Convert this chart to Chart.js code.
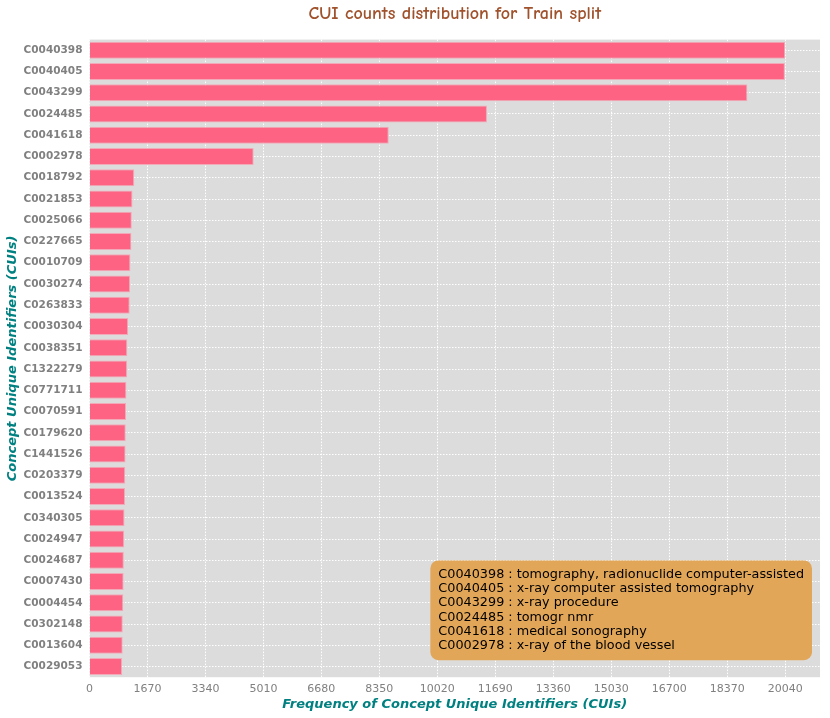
<!DOCTYPE html>
<html>
<head>
<meta charset="utf-8">
<script src="https://cdn.jsdelivr.net/npm/chart.js@4.4.0/dist/chart.umd.min.js"></script>
<style>
  html, body { margin: 0; padding: 0; background: #ffffff; }
  #wrap { width: 830px; height: 718px; }
</style>
</head>
<body>
<div id="wrap"><canvas id="chartCui"></canvas></div>
<script>
var cuiLabels = ['C0040398', 'C0040405', 'C0043299', 'C0024485', 'C0041618', 'C0002978',
    'C0018792', 'C0021853', 'C0025066', 'C0227665', 'C0010709', 'C0030274', 'C0263833',
    'C0030304', 'C0038351', 'C1322279', 'C0771711', 'C0070591', 'C0179620', 'C1441526',
    'C0203379', 'C0013524', 'C0340305', 'C0024947', 'C0024687', 'C0007430', 'C0004454',
    'C0302148', 'C0013604', 'C0029053'];
var cuiCounts = [20040, 20030, 18950, 11450, 8620, 4730,
    1290, 1240, 1220, 1210, 1180, 1170, 1160,
    1115, 1090, 1085, 1065, 1055, 1045, 1040,
    1030, 1025, 1010, 1000, 990, 985, 975,
    960, 958, 940];
var xTickValues = [0, 1670, 3340, 5010, 6680, 8350, 10020, 11690, 13360, 15030, 16700, 18370, 20040];
var xMax = 21042;
var legendLines = [
    'C0040398 : tomography, radionuclide computer-assisted',
    'C0040405 : x-ray computer assisted tomography',
    'C0043299 : x-ray procedure',
    'C0024485 : tomogr nmr',
    'C0041618 : medical sonography',
    'C0002978 : x-ray of the blood vessel'
];

// grey panel behind the bars
var plotBackground = {
    id: 'plotBackground',
    beforeDraw: function (chart) {
        var ctx = chart.ctx, a = chart.chartArea;
        ctx.save();
        ctx.fillStyle = '#dcdcdc';
        ctx.fillRect(a.left, a.top, a.right - a.left, a.bottom - a.top);
        ctx.restore();
    }
};

// orange text box with the CUI descriptions
var cuiTextBox = {
    id: 'cuiTextBox',
    afterDraw: function (chart) {
        var ctx = chart.ctx, a = chart.chartArea;
        ctx.save();
        ctx.font = '12.8px "DejaVu Sans"';
        var w = 0;
        legendLines.forEach(function (l) { w = Math.max(w, ctx.measureText(l).width); });
        var lineH = 14.3, padX = 8, padY = 7;
        var boxW = w + padX * 2, boxH = lineH * legendLines.length + padY * 2;
        var x = a.right - 8 - boxW, y = a.bottom - 17 - boxH;
        ctx.fillStyle = '#e2a659';
        ctx.beginPath();
        ctx.roundRect(x, y, boxW, boxH, 8);
        ctx.fill();
        ctx.fillStyle = '#000000';
        ctx.textBaseline = 'middle';
        legendLines.forEach(function (l, i) {
            ctx.fillText(l, x + padX, y + padY + lineH * (i + 0.5));
        });
        ctx.restore();
    }
};

var chartCui = new Chart(document.getElementById('chartCui'), {
    type: 'bar',
    data: {
        labels: cuiLabels,
        datasets: [{
            data: cuiCounts,
            backgroundColor: '#fe6383',
            borderColor: '#f2aab8',
            borderWidth: 1,
            barPercentage: 0.8,
            categoryPercentage: 1.0
        }]
    },
    options: {
        indexAxis: 'y',
        responsive: true,
        maintainAspectRatio: false,
        animation: false,
        layout: { padding: { left: 5, right: 10, top: 0, bottom: 6 } },
        plugins: {
            legend: { display: false },
            tooltip: { enabled: false },
            title: {
                display: true,
                fullSize: false,
                text: 'CUI counts distribution for Train split',
                color: '#a0522d',
                font: { family: '"Comic Sans MS", "Comic Neue", cursive', size: 18, weight: 'bold' },
                padding: { top: 3, bottom: 15 }
            }
        },
        scales: {
            x: {
                min: 0,
                max: xMax,
                border: { display: false, dash: [1.5, 1.5] },
                grid: { color: '#ffffff', drawTicks: false, lineWidth: 1 },
                afterBuildTicks: function (scale) {
                    scale.ticks = xTickValues.map(function (v) { return { value: v }; });
                },
                ticks: {
                    maxRotation: 0,
                    autoSkip: false,
                    color: '#808080',
                    padding: 5,
                    font: { family: '"DejaVu Sans"', size: 11 },
                    callback: function (v) { return String(v); }
                },
                title: {
                    display: true,
                    text: 'Frequency of Concept Unique Identifiers (CUIs)',
                    color: '#008080',
                    font: { family: '"DejaVu Sans"', size: 13, weight: 'bold', style: 'italic' },
                    padding: { top: -4, bottom: 0 }
                }
            },
            y: {
                border: { display: false, dash: [1.5, 1.5] },
                grid: { color: '#ffffff', drawTicks: false, offset: false },
                ticks: {
                    color: '#808080',
                    padding: 7,
                    font: { family: '"DejaVu Sans"', size: 10.5, weight: 'bold' }
                },
                title: {
                    display: true,
                    text: 'Concept Unique Identifiers (CUIs)',
                    color: '#008080',
                    font: { family: '"DejaVu Sans"', size: 13, weight: 'bold', style: 'italic' },
                    padding: { top: 0, bottom: -4 }
                }
            }
        }
    },
    plugins: [plotBackground, cuiTextBox]
});
</script>
</body>
</html>
